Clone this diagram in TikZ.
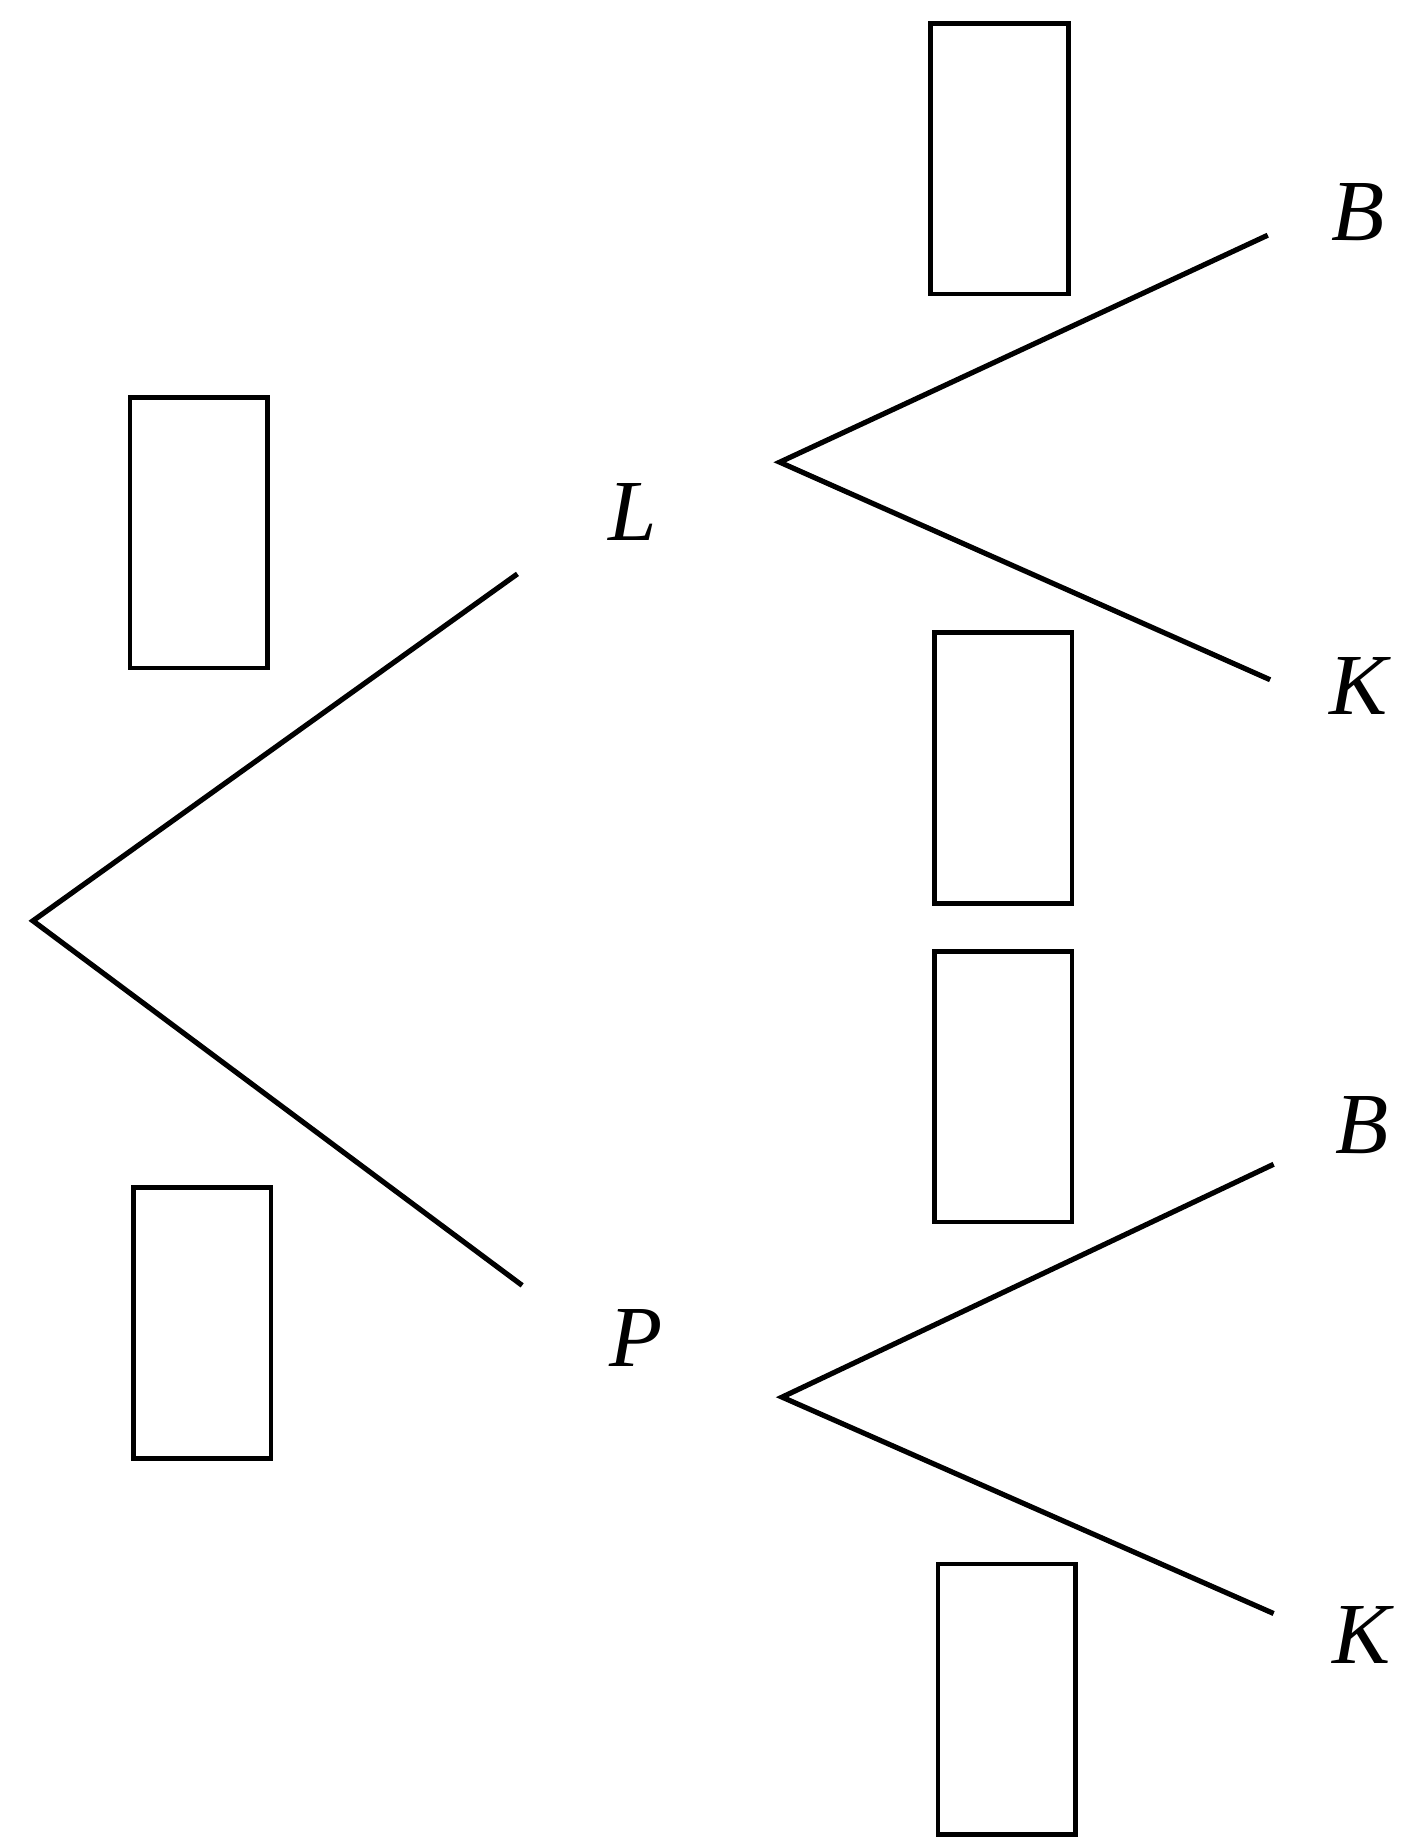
\documentclass[tikz,border=0pt]{standalone}
\usepackage{fontspec}
\setmainfont{Liberation Serif}
\begin{document}
\begin{tikzpicture}[x=1pt,y=-1pt,
  ln/.style={line width=4.4pt},
  blank/.style={draw,line width=4pt,minimum width=117pt,minimum height=230pt,inner sep=0pt},
  lab/.style={font=\fontsize{74}{74}\selectfont\itshape,inner sep=0pt}]
\useasboundingbox (0,0) rectangle (1202,1568);
% boxes
\node[blank] (b1) at (850,135) {};
\node[blank] (b2) at (169,453) {};
\node[blank] (b3) at (853,653) {};
\node[blank] (b4) at (853,924) {};
\node[blank] (b5) at (172,1125) {};
\node[blank] (b6) at (856,1445) {};
% vertices
\coordinate (root) at (28,783);
\coordinate (Le) at (440,488);
\coordinate (Pe) at (444,1093);
\coordinate (Lv) at (663,393);
\coordinate (Pv) at (665,1188);
\coordinate (B1e) at (1078,200);
\coordinate (K1e) at (1080,578);
\coordinate (B2e) at (1083,990);
\coordinate (K2e) at (1083,1372);
% labels
\node[lab] (L) at (538,435) {L};
\node[lab] (P) at (541,1138) {P};
\node[lab] (B1) at (1155,180) {B};
\node[lab] (K1) at (1155,583) {K};
\node[lab] (B2) at (1158,957) {B};
\node[lab] (K2) at (1158,1390) {K};
% lines
\draw[ln] (Le) -- (root) -- (Pe);
\draw[ln] (B1e) -- (Lv) -- (K1e);
\draw[ln] (B2e) -- (Pv) -- (K2e);
\end{tikzpicture}
\end{document}
